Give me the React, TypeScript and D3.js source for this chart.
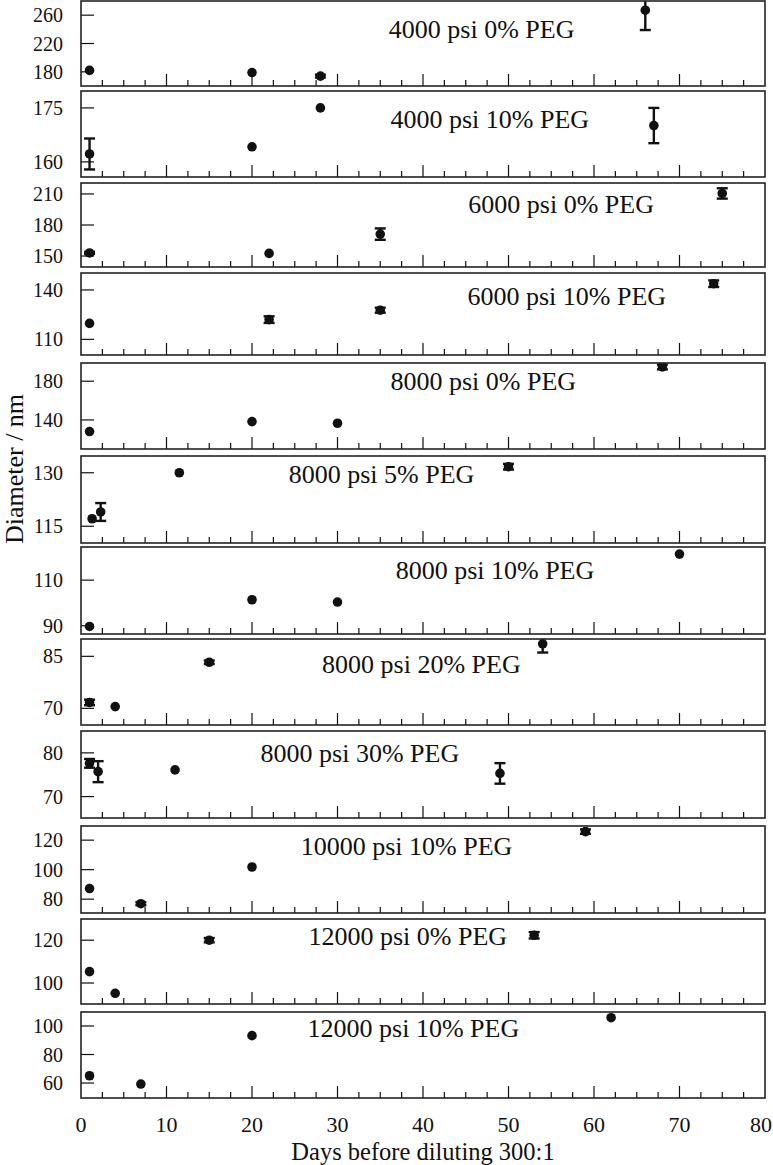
import React from "react";
import * as d3 from "d3";

// Panel titles, top to bottom
const titles = [
  "4000 psi 0% PEG",
  "4000 psi 10% PEG",
  "6000 psi 0% PEG",
  "6000 psi 10% PEG",
  "8000 psi 0% PEG",
  "8000 psi 5% PEG",
  "8000 psi 10% PEG",
  "8000 psi 20% PEG",
  "8000 psi 30% PEG",
  "10000 psi 10% PEG",
  "12000 psi 0% PEG",
  "12000 psi 10% PEG",
];

// measurements: [day, diameter nm, error]
const s4000_0 = [[1, 182, 0], [20, 179, 0], [28, 174, 2], [66, 267, 28]];
const s4000_10 = [[1, 162.2, 4.3], [20, 164.2, 0], [28, 175, 0], [67, 170.1, 4.9]];
const s6000_0 = [[1, 153, 1], [22, 152.6, 0], [35, 171.2, 5.5], [75, 210.5, 5]];
const s6000_10 = [[1, 119.7, 0], [22, 122, 2], [35, 127.7, 1.5], [74, 143.8, 2]];
const s8000_0 = [[1, 128, 0], [20, 138.3, 0], [30, 136.6, 0], [68, 194.7, 2.5]];
const s8000_5 = [[1.3, 117.1, 0], [2.3, 119, 2.5], [11.5, 130, 0], [50, 131.7, 0.8]];
const s8000_10 = [[1, 89.7, 0], [20, 101.4, 0], [30, 100.4, 0], [70, 121.4, 0]];
const s8000_20 = [[1, 71.7, 0.8], [4, 70.5, 0], [15, 83.3, 0.5], [54, 88.6, 2.5]];
const s8000_30 = [[1, 77.6, 1], [2, 75.7, 2.4], [11, 76.1, 0], [49, 75.3, 2.35]];
const s10000_10 = [[1, 87.2, 0], [7, 76.9, 1], [20, 101.8, 0], [59, 125.8, 1.5]];
const s12000_0 = [[1, 105.3, 0], [4, 95.2, 0], [15, 120, 1], [53, 122.3, 1.5]];
const s12000_10 = [[1, 65.1, 0], [7, 59.3, 0], [20, 93.2, 0], [62, 105.8, 0]];

const series = [s4000_0, s4000_10, s6000_0, s6000_10, s8000_0, s8000_5,
  s8000_10, s8000_20, s8000_30, s10000_10, s12000_0, s12000_10];

const yDomains = [
  [160, 280], [155.8, 179.7], [139.4, 220.6], [100.5, 150.3],
  [110, 198.8], [110.3, 134.7], [86.4, 124.5], [65.2, 90],
  [65.1, 85], [70.6, 129.6], [90.2, 129.9], [49.5, 109.8],
];

const yTicks = [
  [180, 220, 260], [160, 175], [150, 180, 210], [110, 140],
  [140, 180], [115, 130], [90, 110], [70, 85],
  [70, 80], [80, 100, 120], [100, 120], [60, 80, 100],
];

const xTickLabels = [0, 10, 20, 30, 40, 50, 60, 70, 80];

// layout (pixels)
const W = 773, H = 1165;
const left = 81, right = 765;
const panelTops = [1, 91, 183, 273, 363, 456, 547, 639, 731, 826, 919, 1012];
const panelBottoms = [86, 177, 267, 355, 449, 543, 634, 725, 818, 913, 1004, 1098];
// title start (in days) and baseline offset from panel top
const titlePos = [
  [36.0, 37], [36.2, 37], [45.3, 30], [45.2, 32], [36.2, 27], [24.3, 27],
  [36.8, 32], [28.2, 34], [21.0, 31], [25.7, 29], [26.6, 26], [26.5, 25],
];

const font = "'Liberation Serif', 'Times New Roman', serif";
const ink = "#111";

export default function App() {
  const x = d3.scaleLinear().domain([0, 80]).range([left, right]);
  const minor = d3.range(0, 80.01, 2.5).filter(v => v > 0 && v < 80);

  return (
    <svg width={W} height={H} style={{ position: "absolute", left: 0, top: 0, background: "#fff" }}
      fontFamily={font}>
      <rect width={W} height={H} fill="#fff" />
      {series.map((pts, i) => {
        const top = panelTops[i], bottom = panelBottoms[i];
        const y = d3.scaleLinear().domain(yDomains[i]).range([bottom, top]);
        const clipId = `clip-${i}`;
        return (
          <g key={i}>
            <defs>
              <clipPath id={clipId}>
                <rect x={left} y={top} width={right - left} height={bottom - top} />
              </clipPath>
            </defs>
            {/* bottom ticks, inward */}
            {minor.map(v => {
              const major = v % 10 === 0;
              return (
                <line key={v} x1={x(v)} x2={x(v)} y1={bottom} y2={bottom - (major ? 12 : 6)}
                  stroke={ink} strokeWidth={1.2} />
              );
            })}
            {/* left ticks + labels */}
            {yTicks[i].map(t => (
              <g key={t}>
                <line x1={left} x2={left + 13} y1={y(t)} y2={y(t)} stroke={ink} strokeWidth={1.2} />
                <text x={63} y={y(t)} dy="0.35em" textAnchor="end" fontSize={20} fill={ink}>{t}</text>
              </g>
            ))}
            <text x={x(titlePos[i][0])} y={top + titlePos[i][1]} fontSize={26} fill={ink}>{titles[i]}</text>
            <g clipPath={`url(#${clipId})`}>
              {pts.map(([d, v, e], k) => (
                <g key={k}>
                  {e > 0 && (
                    <g stroke={ink} strokeWidth={2.4}>
                      <line x1={x(d)} x2={x(d)} y1={y(v - e)} y2={y(v + e)} />
                      <line x1={x(d) - 5.5} x2={x(d) + 5.5} y1={y(v - e)} y2={y(v - e)} />
                      <line x1={x(d) - 5.5} x2={x(d) + 5.5} y1={y(v + e)} y2={y(v + e)} />
                    </g>
                  )}
                  <circle cx={x(d)} cy={y(v)} r={4.8} fill={ink} />
                </g>
              ))}
            </g>
            <rect x={left} y={top} width={right - left} height={bottom - top}
              fill="none" stroke="#222" strokeWidth={1.6} />
          </g>
        );
      })}
      {xTickLabels.map(t => (
        <text key={t} x={Math.min(x(t), 761)} y={1132} textAnchor="middle" fontSize={22} fill={ink}>{t}</text>
      ))}
      <text x={(left + right) / 2} y={1160} textAnchor="middle" fontSize={24.5} fill={ink}>
        Days before diluting 300:1
      </text>
      <text transform="translate(23,469) rotate(-90)" textAnchor="middle" fontSize={26} fill={ink}>
        Diameter / nm
      </text>
    </svg>
  );
}
